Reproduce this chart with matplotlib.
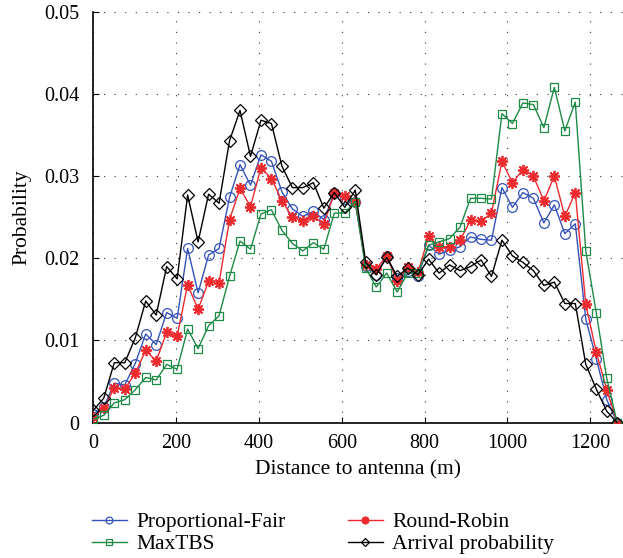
import matplotlib
matplotlib.use("Agg")
import matplotlib.pyplot as plt

distance = [0, 25.3, 50.6, 75.9, 101.2, 126.5, 151.8, 177.1, 202.4, 227.7, 253, 278.3,
            303.6, 328.9, 354.2, 379.5, 404.8, 430.1, 455.4, 480.7, 506, 531.3, 556.6,
            581.9, 607.2, 632.5, 657.8, 683.1, 708.4, 733.7, 759, 784.3, 809.6, 834.9,
            860.2, 885.5, 910.8, 936.1, 961.4, 986.7, 1012, 1037.3, 1062.6, 1087.9,
            1113.2, 1138.5, 1163.8, 1189.1, 1214.4, 1239.7, 1265]

prop_fair = [0.0011, 0.0019, 0.0048, 0.0046, 0.0072, 0.0108, 0.0095, 0.0134, 0.0127, 0.0212,
             0.0158, 0.0204, 0.0212, 0.0274, 0.0314, 0.0289, 0.0326, 0.0318, 0.0281, 0.0260,
             0.0251, 0.0257, 0.0247,
             0.0279, 0.0272, 0.0269, 0.0191, 0.0180, 0.0203, 0.0176, 0.0184, 0.0179, 0.0216,
             0.0205, 0.0210, 0.0214, 0.0226, 0.0223, 0.0222,
             0.0286, 0.0262, 0.0280, 0.0273, 0.0243, 0.0265, 0.0230, 0.0242, 0.0126, 0.0078,
             0.0028, 0.0]

round_robin = [0.0007, 0.0018, 0.0042, 0.0041, 0.0060, 0.0088, 0.0075, 0.0110, 0.0105, 0.0168,
               0.0138, 0.0172, 0.0170, 0.0247, 0.0285, 0.0263, 0.0310, 0.0297, 0.0270, 0.0250,
               0.0245, 0.0251, 0.0242,
               0.0279, 0.0276, 0.0269, 0.0192, 0.0187, 0.0203, 0.0172, 0.0189, 0.0183, 0.0227,
               0.0214, 0.0214, 0.0222, 0.0246, 0.0245, 0.0255,
               0.0318, 0.0292, 0.0308, 0.0300, 0.0270, 0.0300, 0.0251, 0.0280, 0.0144, 0.0086,
               0.0040, 0.0]

max_tbs = [0.0004, 0.0009, 0.0024, 0.0028, 0.0040, 0.0055, 0.0052, 0.0071, 0.0065, 0.0114,
           0.0090, 0.0118, 0.0130, 0.0178, 0.0221, 0.0211, 0.0254, 0.0259, 0.0234, 0.0218,
           0.0209, 0.0219, 0.0211,
           0.0255, 0.0255, 0.0269, 0.0188, 0.0165, 0.0182, 0.0159, 0.0182, 0.0182, 0.0216,
           0.0220, 0.0224, 0.0238, 0.0273, 0.0273, 0.0272,
           0.0376, 0.0364, 0.0389, 0.0387, 0.0359, 0.0408, 0.0355, 0.0390, 0.0209, 0.0134,
           0.0054, 0.0]

arrival = [0.0015, 0.0030, 0.0073, 0.0073, 0.0103, 0.0148, 0.0131, 0.0190, 0.0175, 0.0277,
           0.0220, 0.0278, 0.0267, 0.0343, 0.0380, 0.0324, 0.0368, 0.0364, 0.0312, 0.0286,
           0.0286, 0.0292, 0.0261, 0.0280, 0.0262, 0.0283,
           0.0195, 0.0180, 0.0201, 0.0178, 0.0188, 0.0180, 0.0199, 0.0182, 0.0192, 0.0185,
           0.0190, 0.0198, 0.0178,
           0.0222, 0.0203, 0.0195, 0.0185, 0.0167, 0.0171, 0.0145, 0.0145, 0.0071, 0.0041,
           0.0014, 0.0]

x_ticks = [0, 200, 400, 600, 800, 1000, 1200]
y_ticks = [0, 0.01, 0.02, 0.03, 0.04, 0.05]
y_ticklabels = ["0", "0.01", "0.02", "0.03", "0.04", "0.05"]

plt.rcParams['font.family'] = ['Liberation Serif', 'DejaVu Serif']

fig = plt.figure(figsize=(6.23, 5.58), dpi=100)
ax = fig.add_axes([0.1498, 0.2425, 0.8502, 0.7365])

blue = '#3552b8'
red = '#ee2a2e'
green = '#1d8a45'

ax.plot(distance, prop_fair, color=blue, lw=1.0, marker='o', ms=7, mfc='none',
        mec=blue, mew=0.9, label='Proportional-Fair', zorder=3)
ax.plot(distance, round_robin, color=red, lw=1.0, marker=(8, 2, 0), ms=8,
        mec=red, mew=1.3, label='Round-Robin', zorder=3)
ax.plot(distance, max_tbs, color=green, lw=1.0, marker='s', ms=6, mfc='none',
        mec=green, mew=0.9, label='MaxTBS', zorder=3)
ax.plot(distance, arrival, color='black', lw=1.0, marker='D', ms=6, mfc='none',
        mec='black', mew=0.9, label='Arrival probability', zorder=3)

ax.set_xlim(0, 1279)
ax.set_ylim(0, 0.05)
ax.set_xticks(x_ticks)
ax.set_yticks(y_ticks)
ax.set_yticklabels(y_ticklabels)
ax.tick_params(direction='in', length=4, labelsize=14.5, width=0.8)
ax.tick_params(axis='x', pad=8)
ax.tick_params(axis='y', pad=10)
ax.grid(True, linestyle=(0, (1, 8.5)), color='black', linewidth=0.8, alpha=0.8)
ax.spines['top'].set_visible(False)
ax.spines['right'].set_visible(False)
ax.spines['left'].set_linewidth(1.2)
ax.spines['bottom'].set_linewidth(1.2)
ax.set_xlabel('Distance to antenna (m)', fontsize=15.5, labelpad=5)
ax.set_ylabel('Probability', fontsize=15.5, labelpad=9)

handles, labels = ax.get_legend_handles_labels()
leg = fig.legend([handles[i] for i in [0, 2, 1, 3]], [labels[i] for i in [0, 2, 1, 3]],
                 ncol=2, loc='lower left', bbox_to_anchor=(0.117, -0.028), frameon=False,
                 fontsize=15.5, markerscale=0.7, handlelength=1.6, columnspacing=2.9,
                 labelspacing=0.08, handletextpad=0.45)

fig.savefig('out.png', dpi=100)
